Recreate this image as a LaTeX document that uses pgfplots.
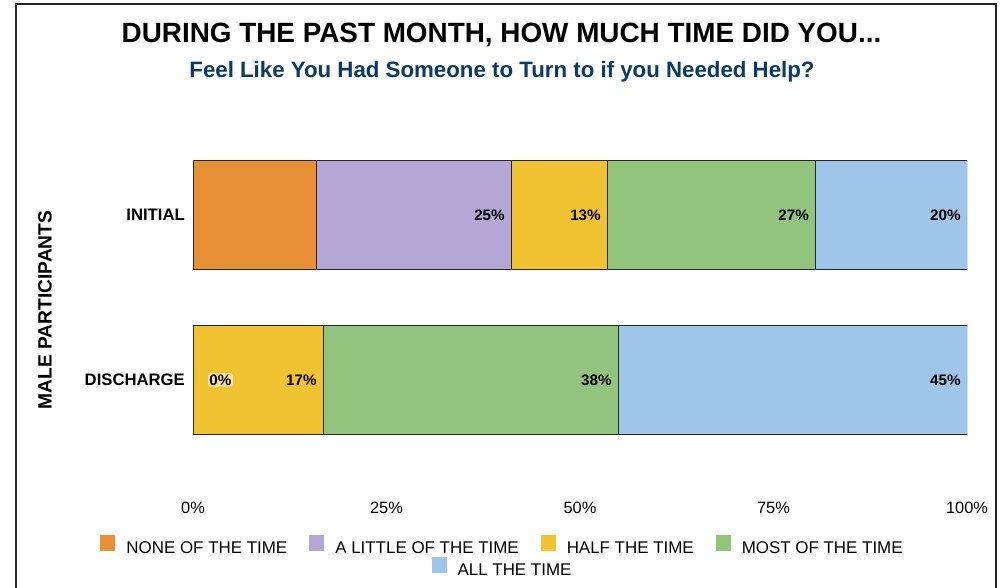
\documentclass[border=0pt]{standalone}
\usepackage{pgfplots}
\pgfplotsset{compat=1.18}
\pgfplotsset{compat/bar nodes=1.8}
\usepackage{fontspec}
\setmainfont{Liberation Sans}
\definecolor{noneC}{HTML}{E69138}
\definecolor{littleC}{HTML}{B4A7D6}
\definecolor{halfC}{HTML}{F1C232}
\definecolor{mostC}{HTML}{93C47D}
\definecolor{allC}{HTML}{9FC5E8}
\definecolor{subC}{HTML}{0B3A62}
\begin{document}
\begin{tikzpicture}
\useasboundingbox (0,0) rectangle (753.75pt,-440.25pt);
\draw[line width=1.5pt, black!85] (12pt,-3pt) rectangle (747pt,-470pt);
\node[font=\bfseries\fontsize{20.9}{24}\selectfont] at (376.1pt,-26.25pt) {DURING THE PAST MONTH, HOW MUCH TIME DID YOU...};
\node[font=\bfseries\fontsize{16.7}{20}\selectfont, text=subC] at (376.5pt,-54pt) {Feel Like You Had Someone to Turn to if you Needed Help?};
\node[font=\bfseries\fontsize{14.4}{17}\selectfont, rotate=90] at (33.75pt,-232.5pt) {MALE PARTICIPANTS};
\begin{axis}[
 at={(144.75pt,-371.25pt)}, anchor=south west,
 width=580.5pt, height=296.25pt, scale only axis,
 xbar stacked, bar width=81.75pt,
 xmin=0, xmax=100, ymin=-0.7, ymax=1.7,
 xtick={0,25,50,75,100}, xticklabels={0\%,25\%,50\%,75\%,100\%},
 ytick={0,1}, yticklabels={DISCHARGE,INITIAL},
 /pgf/number format/assume math mode=true,
 axis line style={draw=none}, tick style={draw=none},
 xticklabel style={font=\fontsize{12.3}{14}\selectfont, inner sep=0pt},
 yticklabel style={font=\bfseries\fontsize{12.5}{15}\selectfont, inner sep=0pt},
 xticklabel shift=5.25pt, yticklabel shift=6pt,
 every node near coord/.append style={anchor=east, inner sep=0pt, xshift=-4.5pt, font=\bfseries\fontsize{11.4}{13}\selectfont, text=black},
 legend style={at={(0.3986,-0.1266)}, anchor=center, draw=none, fill=none,
   legend columns=4, font=\fontsize{12.7}{15}\selectfont, inner sep=0pt,
   nodes={inner sep=0pt},
   /tikz/every odd column/.append style={column sep=8.25pt},
   /tikz/every even column/.append style={column sep=16.5pt}},
 legend cell align=left,
 legend image code/.code={\fill[#1,draw=none] (0pt,-1.55pt) rectangle (11.25pt,10.45pt);},
]
\addplot[fill=noneC, draw=black!85, line width=0.6pt] coordinates {(16,1) (0,0)};
\addplot[fill=littleC, draw=black!85, line width=0.6pt, nodes near coords, point meta=explicit symbolic] coordinates {(25.1,1) [25\%] (0,0) [\relax]};
\addplot[fill=halfC, draw=black!85, line width=0.6pt, nodes near coords, point meta=explicit symbolic] coordinates {(12.4,1) [13\%] (16.8,0) [17\%]};
\addplot[fill=mostC, draw=black!85, line width=0.6pt, nodes near coords, point meta=explicit symbolic] coordinates {(26.9,1) [27\%] (38.1,0) [38\%]};
\addplot[fill=allC, draw=black!85, line width=0.6pt, nodes near coords, point meta=explicit symbolic] coordinates {(19.6,1) [20\%] (45.1,0) [45\%]};
\legend{NONE OF THE TIME, A LITTLE OF THE TIME, HALF THE TIME, MOST OF THE TIME}
\coordinate (zp) at (axis cs:3.55,0);
\end{axis}
\node[font=\bfseries\fontsize{11.4}{13}\selectfont, text=black, fill=white, fill opacity=0.55, text opacity=1, inner sep=1pt, rounded corners=2pt] at (zp) {0\%};
\begin{axis}[
 at={(144.75pt,-371.25pt)}, anchor=south west,
 width=580.5pt, height=296.25pt, scale only axis,
 hide axis, xmin=0, xmax=1, ymin=0, ymax=1,
 legend style={at={(0.3986,-0.1823)}, anchor=center, draw=none, fill=none,
   legend columns=1, font=\fontsize{12.7}{15}\selectfont, inner sep=0pt,
   nodes={inner sep=0pt},
   /tikz/every odd column/.append style={column sep=8.25pt}},
 legend cell align=left,
 legend image code/.code={\fill[#1,draw=none] (0pt,-1.55pt) rectangle (11.25pt,10.45pt);},
]
\addlegendimage{fill=allC, draw=none}
\addlegendentry{ALL THE TIME}
\end{axis}
\end{tikzpicture}
\end{document}
